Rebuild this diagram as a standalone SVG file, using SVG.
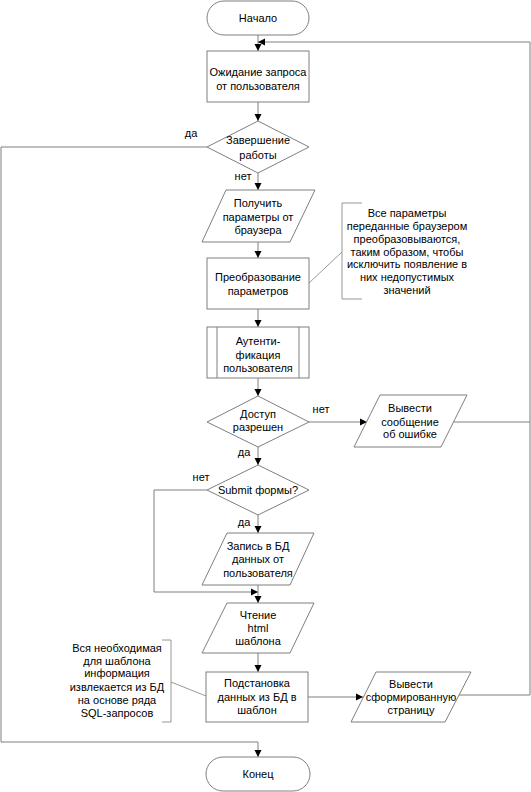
<svg xmlns="http://www.w3.org/2000/svg" width="531" height="792" viewBox="0 0 531 792">
<style>
.s{fill:#fff;stroke:#7f7f7f;stroke-width:1}
.c{fill:none;stroke:#7f7f7f;stroke-width:1}
.n{fill:none;stroke:#7f7f7f;stroke-width:0.8}
text{font-family:"Liberation Sans",Arial,sans-serif;font-size:11px;fill:#000;text-anchor:middle}
</style>
<defs>
<marker id="a" markerWidth="8" markerHeight="8" refX="7" refY="4" orient="auto" markerUnits="userSpaceOnUse">
<path d="M0,0.5 L7,4 L0,7.5 Z" fill="#000"/>
</marker>
</defs>
<g id="connectors">
<path class="c" d="M258,35 V51" marker-end="url(#a)"/>
<path class="c" d="M530,695 V42 H258" marker-end="url(#a)"/>
<path class="c" d="M258,102 V121" marker-end="url(#a)"/>
<path class="c" d="M207,147 H1 V742 H258 V757" marker-end="url(#a)"/>
<path class="c" d="M258,173 V190" marker-end="url(#a)"/>
<path class="c" d="M258,242 V258" marker-end="url(#a)"/>
<path class="c" d="M258,309 V327" marker-end="url(#a)"/>
<path class="c" d="M258,378 V396" marker-end="url(#a)"/>
<path class="c" d="M309,422 H367" marker-end="url(#a)"/>
<path class="c" d="M454,422 H530"/>
<path class="c" d="M258,447 V465" marker-end="url(#a)"/>
<path class="c" d="M258,515 V533" marker-end="url(#a)"/>
<path class="c" d="M207,490 H154 V592 H258" marker-end="url(#a)"/>
<path class="c" d="M258,585 V603" marker-end="url(#a)"/>
<path class="c" d="M258,653 V672" marker-end="url(#a)"/>
<path class="c" d="M308,697 H363" marker-end="url(#a)"/>
<path class="c" d="M458,695 H530"/>
<text x="191" y="137">да</text>
<text x="243" y="180">нет</text>
<text x="321" y="413">нет</text>
<text x="244" y="456">да</text>
<text x="201" y="481">нет</text>
<text x="244" y="526">да</text>
</g>
<g id="start">
<rect class="s" x="207" y="1" width="102" height="34" rx="17"/>
<text x="258" y="22">Начало</text>
</g>
<g id="wait">
<rect class="s" x="207" y="51" width="102" height="51"/>
<text x="258" y="76">Ожидание запроса</text>
<text x="258" y="90">от пользователя</text>
</g>
<g id="finish">
<path class="s" d="M258,121 L309,147 L258,173 L207,147 Z"/>
<text x="258" y="144">Завершение</text>
<text x="258" y="159">работы</text>
</g>
<g id="get">
<path class="s" d="M226,190 H315 L290,242 H202 Z"/>
<text x="258" y="207">Получить</text>
<text x="258" y="221">параметры от</text>
<text x="258" y="234">браузера</text>
</g>
<g id="convert">
<rect class="s" x="207" y="258" width="102" height="51"/>
<text x="258" y="281">Преобразование</text>
<text x="258" y="295">параметров</text>
</g>
<g id="note1">
<path class="n" d="M362,203 H342 V299 H362"/>
<path class="n" d="M342,252 L309,283"/>
<text x="407" y="217">Все параметры</text>
<text x="407" y="230">переданные браузером</text>
<text x="407" y="243">преобразовываются,</text>
<text x="407" y="256">таким образом, чтобы</text>
<text x="407" y="268">исключить появление в</text>
<text x="407" y="281">них недопустимых</text>
<text x="407" y="294">значений</text>
</g>
<g id="auth">
<rect class="s" x="207" y="327" width="102" height="51"/>
<path class="c" d="M217,327 V378 M299,327 V378"/>
<text x="258" y="345">Аутенти-</text>
<text x="258" y="359">фикация</text>
<text x="258" y="372">пользователя</text>
</g>
<g id="access">
<path class="s" d="M258,396 L309,422 L258,447 L207,422 Z"/>
<text x="258" y="418">Доступ</text>
<text x="258" y="431">разрешен</text>
</g>
<g id="error">
<path class="s" d="M380,395 H467 L441,447 H354 Z"/>
<text x="410" y="412">Вывести</text>
<text x="410" y="426">сообщение</text>
<text x="410" y="438">об ошибке</text>
</g>
<g id="submit">
<path class="s" d="M258,465 L309,490 L258,515 L207,490 Z"/>
<text x="258" y="494">Submit формы?</text>
</g>
<g id="write">
<path class="s" d="M227,533 H314 L290,585 H202 Z"/>
<text x="258" y="550">Запись в БД</text>
<text x="258" y="563">данных от</text>
<text x="258" y="577">пользователя</text>
</g>
<g id="read">
<path class="s" d="M227,603 H314 L290,653 H202 Z"/>
<text x="258" y="619">Чтение</text>
<text x="258" y="632">html</text>
<text x="258" y="645">шаблона</text>
</g>
<g id="subst">
<rect class="s" x="206" y="672" width="102" height="50"/>
<text x="257" y="687">Подстановка</text>
<text x="257" y="701">данных из БД в</text>
<text x="257" y="714">шаблон</text>
</g>
<g id="note2">
<path class="n" d="M162,640 H171 V722 H162"/>
<path class="n" d="M171,682 L206,696"/>
<text x="117" y="652">Вся необходимая</text>
<text x="117" y="665">для шаблона</text>
<text x="117" y="677">информация</text>
<text x="117" y="691">извлекается из БД</text>
<text x="117" y="704">на основе ряда</text>
<text x="117" y="717">SQL-запросов</text>
</g>
<g id="output">
<path class="s" d="M376,672 H471 L445,722 H351 Z"/>
<text x="411" y="688">Вывести</text>
<text x="411" y="701">сформированную</text>
<text x="411" y="714">страницу</text>
</g>
<g id="end">
<rect class="s" x="206" y="757" width="104" height="34" rx="17"/>
<text x="258" y="778">Конец</text>
</g>
</svg>
